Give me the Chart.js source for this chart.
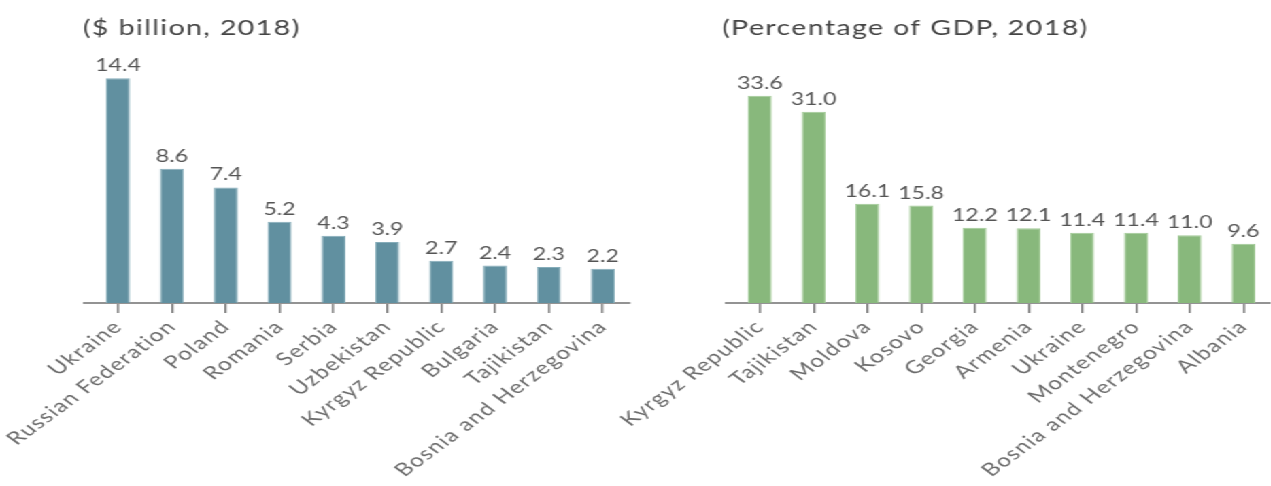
<!DOCTYPE html>
<html><head><meta charset="utf-8">
<script src="https://cdn.jsdelivr.net/npm/chart.js@4.4.1/dist/chart.umd.min.js"></script>
<style>
html,body{margin:0;padding:0;background:#fff;overflow:hidden;width:1271px;height:486px;}
#stage{position:absolute;left:0;top:0;width:935px;height:486px;transform:scaleX(1.36);transform-origin:0 0;}
.box{position:absolute;top:0;height:486px;}
#leftBox{left:0;width:467px;}
#rightBox{left:440px;width:495px;}
</style></head><body>
<div id="stage"><div class="box" id="leftBox"><canvas id="c1"></canvas></div><div class="box" id="rightBox"><canvas id="c2"></canvas></div></div>
<script>
const leftTitle = '($ billion, 2018)';
const leftCategories = ['Ukraine','Russian Federation','Poland','Romania','Serbia','Uzbekistan','Kyrgyz Republic','Bulgaria','Tajikistan','Bosnia and Herzegovina'];
const leftValues = [14.4, 8.6, 7.4, 5.2, 4.3, 3.9, 2.7, 2.4, 2.3, 2.2];
const rightTitle = '(Percentage of GDP, 2018)';
const rightCategories = ['Kyrgyz Republic','Tajikistan','Moldova','Kosovo','Georgia','Armenia','Ukraine','Montenegro','Bosnia and Herzegovina','Albania'];
const rightValues = [33.6, 31.0, 16.1, 15.8, 12.2, 12.1, 11.4, 11.4, 11.0, 9.6];

const FONT = 'Lato';

const textSpacing = {
  id: 'textSpacing',
  beforeDraw(chart) { chart.ctx.letterSpacing = '1px'; }
};

const valueLabels = {
  id: 'valueLabels',
  afterDatasetsDraw(chart) {
    const ctx = chart.ctx;
    const meta = chart.getDatasetMeta(0);
    const vals = chart.data.datasets[0].data;
    ctx.save();
    ctx.letterSpacing = '0px';
    ctx.font = '17px ' + FONT;
    ctx.fillStyle = '#555555';
    ctx.textAlign = 'center';
    ctx.textBaseline = 'alphabetic';
    meta.data.forEach((bar, i) => {
      ctx.fillText(Number(vals[i]).toFixed(1), bar.x, bar.y - 7);
    });
    // short extension of the baseline to the left of the plot area
    const a = chart.chartArea;
    ctx.strokeStyle = '#939393';
    ctx.lineWidth = 2;
    ctx.beginPath();
    ctx.moveTo(a.left - 6, a.bottom);
    ctx.lineTo(a.left + 1, a.bottom);
    ctx.stroke();
    ctx.restore();
  }
};

function makeChart(id, cats, vals, title, color, border, yMax, pad) {
  return new Chart(document.getElementById(id), {
    type: 'bar',
    data: {
      labels: cats,
      datasets: [{
        data: vals,
        backgroundColor: color,
        borderColor: border,
        borderWidth: 1,
        barPercentage: 0.445,
        categoryPercentage: 1
      }]
    },
    options: {
      responsive: true,
      maintainAspectRatio: false,
      animation: false,
      layout: { padding: { left: pad.left, right: pad.right, top: 0, bottom: 0 } },
      plugins: {
        legend: { display: false },
        tooltip: { enabled: false },
        title: {
          display: true,
          text: title,
          align: 'start',
          color: '#444444',
          font: { family: FONT, size: 21, weight: 'normal' },
          padding: { top: 16, bottom: 12 }
        }
      },
      scales: {
        x: {
          grid: { display: true, drawOnChartArea: false, drawTicks: true, tickLength: 10, offset: false, color: '#7a7a7a', lineWidth: 1.5 },
          border: { display: true, color: '#939393', width: 2 },
          ticks: { autoSkip: false, maxRotation: 45, minRotation: 45, color: '#6b6b6b', padding: 3, font: { family: FONT, size: 18 } },
          afterFit(s) { s.height = 183; }
        },
        y: {
          min: 0, max: yMax,
          grid: { display: false },
          border: { display: false },
          ticks: { display: false },
          afterFit(s) { s.width = pad.yw; }
        }
      }
    },
    plugins: [textSpacing, valueLabels]
  });
}

makeChart('c1', leftCategories, leftValues, leftTitle, '#6190a0', '#86adba', 16, { left: 61, right: 4, yw: 6 });
makeChart('c2', rightCategories, rightValues, rightTitle, '#88b87c', '#a3cb98', 40.5, { left: 91, right: 1, yw: 8 });
</script>
</body></html>
